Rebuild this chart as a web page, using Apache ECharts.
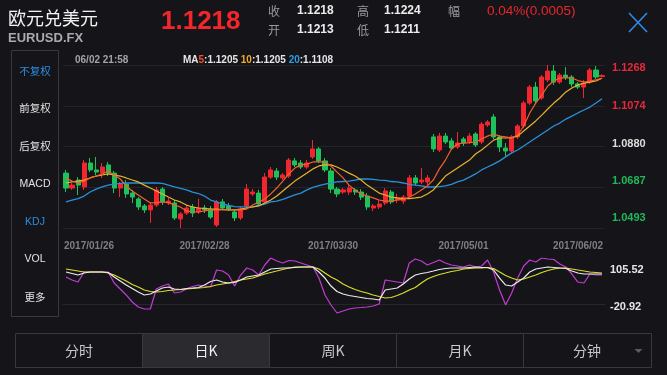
<!DOCTYPE html>
<html><head><meta charset="utf-8">
<script src="https://cdn.jsdelivr.net/npm/echarts@6/dist/echarts.min.js"></script>
<style>html,body{margin:0;padding:0;background:#151519;}#c{width:667px;height:375px;}</style>
</head><body><div id="c"></div>
<script>
const dates = ['2017/01/26','2017/01/27','2017/01/30','2017/01/31',
'2017/02/01','2017/02/02','2017/02/03','2017/02/06','2017/02/07','2017/02/08','2017/02/09','2017/02/10','2017/02/13','2017/02/14','2017/02/15','2017/02/16','2017/02/17','2017/02/20','2017/02/21','2017/02/22','2017/02/23','2017/02/24','2017/02/27','2017/02/28',
'2017/03/01','2017/03/02','2017/03/03','2017/03/06','2017/03/07','2017/03/08','2017/03/09','2017/03/10','2017/03/13','2017/03/14','2017/03/15','2017/03/16','2017/03/17','2017/03/20','2017/03/21','2017/03/22','2017/03/23','2017/03/24','2017/03/27','2017/03/28','2017/03/29','2017/03/30','2017/03/31',
'2017/04/03','2017/04/04','2017/04/05','2017/04/06','2017/04/07','2017/04/10','2017/04/11','2017/04/12','2017/04/13','2017/04/17','2017/04/18','2017/04/19','2017/04/20','2017/04/21','2017/04/24','2017/04/25','2017/04/26','2017/04/27','2017/04/28',
'2017/05/01','2017/05/02','2017/05/03','2017/05/04','2017/05/05','2017/05/08','2017/05/09','2017/05/10','2017/05/11','2017/05/12','2017/05/15','2017/05/16','2017/05/17','2017/05/18','2017/05/19','2017/05/22','2017/05/23','2017/05/24','2017/05/25','2017/05/26','2017/05/30','2017/05/31',
'2017/06/01','2017/06/02'];

const dateLabels = ['2017/01/26','2017/02/28','2017/03/30','2017/05/01','2017/06/02'];
const priceTicks = [1.0493, 1.0687, 1.0880, 1.1074, 1.1268];
const kdjTicks = [-20.92, 105.52];

// [open, close, low, high]
const ohlc = [
[1.0754,1.0683,1.0664,1.0769],[1.0683,1.0697,1.0674,1.0707],[1.0721,1.0697,1.0650,1.0735],[1.0688,1.0802,1.0674,1.0816],[1.0802,1.0769,1.0759,1.0826],
[1.0769,1.0759,1.0745,1.0831],[1.0754,1.0783,1.0731,1.0802],[1.0793,1.0754,1.0740,1.0807],[1.0754,1.0683,1.0659,1.0764],[1.0683,1.0702,1.0640,1.0712],
[1.0702,1.0655,1.0636,1.0721],[1.0659,1.0640,1.0612,1.0674],[1.0631,1.0593,1.0579,1.0640],[1.0598,1.0579,1.0564,1.0607],[1.0579,1.0602,1.0517,1.0612],
[1.0602,1.0674,1.0593,1.0688],[1.0678,1.0617,1.0602,1.0688],[1.0612,1.0621,1.0602,1.0636],[1.0612,1.0541,1.0531,1.0626],[1.0536,1.0560,1.0493,1.0569],
[1.0564,1.0588,1.0555,1.0602],[1.0593,1.0564,1.0545,1.0607],[1.0569,1.0588,1.0560,1.0631],[1.0588,1.0579,1.0564,1.0602],[1.0583,1.0545,1.0536,1.0598],
[1.0507,1.0617,1.0498,1.0626],[1.0617,1.0588,1.0579,1.0631],[1.0598,1.0583,1.0574,1.0612],[1.0569,1.0541,1.0526,1.0583],[1.0541,1.0583,1.0531,1.0593],
[1.0598,1.0678,1.0588,1.0702],[1.0655,1.0664,1.0645,1.0678],[1.0659,1.0607,1.0598,1.0674],[1.0617,1.0735,1.0607,1.0754],[1.0735,1.0769,1.0726,1.0783],
[1.0764,1.0735,1.0721,1.0778],[1.0731,1.0745,1.0721,1.0754],[1.0740,1.0816,1.0731,1.0826],[1.0812,1.0793,1.0783,1.0826],[1.0802,1.0783,1.0774,1.0816],
[1.0783,1.0802,1.0774,1.0816],[1.0831,1.0869,1.0821,1.0911],[1.0869,1.0812,1.0802,1.0878],[1.0812,1.0769,1.0759,1.0826],[1.0764,1.0678,1.0659,1.0778],
[1.0678,1.0655,1.0640,1.0688],[1.0664,1.0674,1.0655,1.0683],[1.0664,1.0683,1.0650,1.0697],[1.0674,1.0664,1.0650,1.0683],[1.0664,1.0640,1.0626,1.0678],
[1.0645,1.0593,1.0579,1.0659],[1.0588,1.0598,1.0574,1.0607],[1.0593,1.0607,1.0583,1.0626],[1.0612,1.0669,1.0602,1.0683],[1.0664,1.0617,1.0607,1.0674],
[1.0626,1.0636,1.0612,1.0655],[1.0621,1.0640,1.0607,1.0650],[1.0645,1.0731,1.0636,1.0745],[1.0731,1.0707,1.0693,1.0745],[1.0712,1.0721,1.0702,1.0778],
[1.0712,1.0731,1.0697,1.0745],[1.0926,1.0869,1.0854,1.0940],[1.0864,1.0930,1.0854,1.0945],[1.0930,1.0902,1.0892,1.0945],[1.0907,1.0873,1.0864,1.0921],
[1.0878,1.0897,1.0869,1.0949],[1.0916,1.0897,1.0883,1.0926],[1.0902,1.0930,1.0892,1.0945],[1.0940,1.0888,1.0878,1.0949],[1.0902,1.0987,1.0892,1.0997],
[1.0983,1.0997,1.0973,1.1006],[1.1021,1.0926,1.0916,1.1035],[1.0926,1.0878,1.0854,1.0935],[1.0873,1.0859,1.0835,1.0897],[1.0859,1.0926,1.0850,1.0935],
[1.0926,1.0978,1.0916,1.0987],[1.0978,1.1087,1.0968,1.1097],[1.1087,1.1163,1.1078,1.1173],[1.1163,1.1097,1.1087,1.1187],[1.1111,1.1211,1.1102,1.1220],
[1.1197,1.1239,1.1187,1.1268],[1.1239,1.1187,1.1173,1.1268],[1.1187,1.1220,1.1178,1.1230],[1.1220,1.1211,1.1197,1.1258],[1.1211,1.1178,1.1163,1.1220],
[1.1178,1.1163,1.1154,1.1187],[1.1163,1.1182,1.1111,1.1197],[1.1187,1.1244,1.1178,1.1254],[1.1244,1.1211,1.1201,1.1263],[1.1213,1.1218,1.1211,1.1224]
];

const ma5 = [1.0731,1.0716,1.0707,1.0716,1.0731,1.0740,1.0750,1.0764,1.0745,1.0726,
1.0693,1.0669,1.0650,1.0631,1.0612,1.0614,1.0617,1.0614,1.0602,1.0593,
1.0574,1.0569,1.0569,1.0574,1.0579,1.0579,1.0579,1.0579,1.0579,1.0579,
1.0583,1.0602,1.0617,1.0631,1.0655,1.0683,1.0716,1.0750,1.0778,1.0793,
1.0797,1.0807,1.0807,1.0807,1.0788,1.0759,1.0731,1.0697,1.0674,1.0655,
1.0645,1.0636,1.0626,1.0621,1.0621,1.0626,1.0629,1.0640,1.0655,1.0674,
1.0693,1.0721,1.0774,1.0816,1.0869,1.0892,1.0897,1.0899,1.0902,1.0916,
1.0930,1.0940,1.0930,1.0926,1.0921,1.0935,1.0978,1.1040,1.1087,1.1125,
1.1168,1.1192,1.1206,1.1208,1.1206,1.1194,1.1187,1.1192,1.1197,1.1205];

const ma10 = [1.0707,1.0712,1.0716,1.0721,1.0731,1.0740,1.0745,1.0750,1.0745,1.0740,
1.0731,1.0721,1.0712,1.0697,1.0683,1.0669,1.0655,1.0640,1.0626,1.0617,
1.0602,1.0593,1.0588,1.0586,1.0583,1.0583,1.0581,1.0579,1.0579,1.0583,
1.0588,1.0593,1.0598,1.0612,1.0626,1.0645,1.0669,1.0693,1.0716,1.0735,
1.0754,1.0774,1.0788,1.0793,1.0793,1.0783,1.0769,1.0754,1.0740,1.0721,
1.0697,1.0678,1.0659,1.0650,1.0640,1.0636,1.0633,1.0633,1.0636,1.0640,
1.0655,1.0674,1.0707,1.0740,1.0759,1.0778,1.0797,1.0816,1.0845,1.0864,
1.0887,1.0911,1.0921,1.0921,1.0923,1.0930,1.0954,1.0978,1.1002,1.1030,
1.1059,1.1087,1.1111,1.1140,1.1159,1.1173,1.1182,1.1187,1.1192,1.1205];

const ma20 = [1.0617,1.0626,1.0633,1.0645,1.0664,1.0678,1.0688,1.0697,1.0702,1.0705,
1.0707,1.0707,1.0707,1.0707,1.0707,1.0707,1.0705,1.0697,1.0688,1.0681,
1.0674,1.0664,1.0657,1.0645,1.0626,1.0617,1.0607,1.0600,1.0595,1.0593,
1.0593,1.0593,1.0600,1.0607,1.0617,1.0621,1.0629,1.0640,1.0650,1.0659,
1.0674,1.0686,1.0695,1.0702,1.0707,1.0712,1.0714,1.0716,1.0721,1.0726,
1.0726,1.0724,1.0721,1.0719,1.0714,1.0712,1.0707,1.0700,1.0697,1.0693,
1.0688,1.0688,1.0690,1.0693,1.0700,1.0712,1.0721,1.0735,1.0750,1.0769,
1.0783,1.0797,1.0812,1.0831,1.0850,1.0864,1.0883,1.0902,1.0921,1.0940,
1.0959,1.0978,1.0992,1.1011,1.1025,1.1040,1.1054,1.1068,1.1087,1.1108];

const kdjK = [73.3,69.9,66.4,71.0,73.3,73.3,73.3,72.2,61.8,52.6,
43.4,35.4,27.4,20.5,22.8,29.7,36.5,38.8,34.3,33.1,
35.4,36.5,37.7,43.4,51.5,54.9,50.3,48.0,49.2,54.9,
61.8,64.1,66.4,73.3,80.2,81.4,82.5,82.5,83.7,84.8,
84.8,84.8,73.3,59.5,41.1,28.5,22.8,19.3,17.0,14.7,
12.4,11.3,9.0,32.0,34.3,36.5,45.7,57.2,66.4,69.9,
72.2,75.6,79.1,81.4,82.5,82.5,82.5,83.7,84.8,83.7,
83.7,77.9,59.5,43.4,41.1,50.3,59.5,73.3,80.2,82.5,
84.8,83.7,82.5,81.4,75.6,71.0,68.7,68.7,68.7,68.7];

const kdjD = [80.2,77.9,75.6,73.3,73.3,73.3,73.3,71.0,66.4,59.5,
52.6,44.6,38.8,32.0,28.5,27.4,28.5,30.8,32.0,33.1,
34.3,35.4,36.5,37.7,40.0,43.4,45.7,48.0,51.5,54.9,
57.2,59.5,64.1,68.7,72.2,75.6,79.1,82.5,84.8,84.8,
84.8,84.8,80.2,71.0,61.8,54.9,45.7,38.8,33.1,28.5,
25.1,20.5,17.0,13.6,14.7,19.3,25.1,32.0,37.7,48.0,
57.2,63.0,67.6,71.0,74.5,76.8,80.2,81.4,82.5,82.5,
83.7,81.4,73.3,65.3,59.5,54.9,57.2,61.8,66.4,72.2,
76.8,80.2,82.5,82.5,80.2,77.9,75.6,73.3,72.2,71.0];

const kdjJ = [61.8,54.9,50.3,73.3,73.3,73.3,73.3,73.3,48.0,34.3,
20.5,4.4,-7.1,-11.7,-11.7,34.3,41.1,45.7,25.1,27.4,
34.3,40.0,43.4,41.1,38.8,77.9,75.6,66.4,41.1,66.4,
82.5,77.9,66.4,89.4,105.52,98.6,94.0,99.8,98.6,94.0,
89.4,84.8,59.5,20.5,-2.5,-20.92,-16.3,-11.7,-9.4,-8.3,
-7.1,-4.8,-0.2,54.9,52.6,50.3,48.0,94.0,103.2,98.6,
89.4,95.2,100.9,94.0,89.4,87.1,84.8,89.4,84.8,87.1,
100.9,73.3,32.0,-2.5,25.1,59.5,87.1,100.9,96.3,105.5,
103.2,102.1,91.7,84.8,68.7,50.3,48.0,68.7,66.4,66.4];

const F = '"Liberation Sans", "Noto Sans CJK SC", sans-serif';
const CJK = '"Noto Sans CJK SC", sans-serif';
const RED = '#f2262e', GREEN = '#1fc15b';

function T(x, y, text, size, fill, o) {
  o = o || {};
  const al = o.align || 'left';
  return { type: 'text', silent: true, z: 100, style: Object.assign({
    x: x, y: y, text: text, fill: fill, fontSize: size, fontFamily: o.family || F,
    fontWeight: o.weight || 'normal', textAlign: al, align: al,
    textVerticalAlign: 'middle', verticalAlign: 'middle'
  }, o.extra || {}) };
}
function L(x1, y1, x2, y2, c, w) {
  return { type: 'line', silent: true, z: 100, shape: {x1: x1, y1: y1, x2: x2, y2: y2}, style: {stroke: c, lineWidth: w || 1} };
}

const graphics = [
  T(8, 18, '欧元兑美元', 18, '#f2f2f2', {family: CJK}),
  T(8, 38, 'EURUSD.FX', 13, '#a9abb0', {weight: 'bold'}),
  T(161, 22, '1.1218', 26, '#f3262c', {weight: 'bold'}),
  T(268, 11, '收', 12, '#9a9a9e', {family: CJK}),
  T(297, 11, '1.1218', 12, '#ececec', {weight: 'bold'}),
  T(357, 11, '高', 12, '#9a9a9e', {family: CJK}),
  T(384, 11, '1.1224', 12, '#ececec', {weight: 'bold'}),
  T(448, 11, '幅', 12, '#9a9a9e', {family: CJK}),
  T(487, 11, '0.04%(0.0005)', 13.5, '#e8262e'),
  T(268, 30, '开', 12, '#9a9a9e', {family: CJK}),
  T(297, 30, '1.1213', 12, '#ececec', {weight: 'bold'}),
  T(357, 30, '低', 12, '#9a9a9e', {family: CJK}),
  T(384, 30, '1.1211', 12, '#ececec', {weight: 'bold'}),
  L(629, 13, 647, 32, '#2f8be6', 1.6),
  L(647, 13, 629, 32, '#2f8be6', 1.6),
  // sidebar
  { type: 'rect', silent: true, z: 90, shape: {x: 11.5, y: 50.5, width: 47, height: 266}, style: {fill: 'none', stroke: '#38383d', lineWidth: 1} },
  T(35, 71, '不复权', 10.5, '#2d8de2', {align: 'center', family: CJK}),
  T(35, 108, '前复权', 10.5, '#e2e2e2', {align: 'center', family: CJK}),
  T(35, 146, '后复权', 10.5, '#e2e2e2', {align: 'center', family: CJK}),
  T(35, 184, 'MACD', 10.5, '#e2e2e2', {align: 'center'}),
  T(35, 222, 'KDJ', 10.5, '#2d8de2', {align: 'center'}),
  T(35, 259, 'VOL', 10.5, '#e2e2e2', {align: 'center'}),
  T(35, 297, '更多', 10.5, '#e2e2e2', {align: 'center', family: CJK}),
  // info line
  T(75, 60, '06/02 21:58', 10, '#a3a3a6', {weight: 'bold'}),
  { type: 'text', silent: true, z: 100, style: {
      x: 183, y: 60, textVerticalAlign: 'middle', verticalAlign: 'middle',
      text: '{w|MA}{a|5}{w|:1.1205 }{b|10}{w|:1.1205 }{c|20}{w|:1.1108}',
      rich: {
        w: {fill: '#e6e6e6', fontSize: 10, fontWeight: 'bold', fontFamily: F},
        a: {fill: '#f5502d', fontSize: 10, fontWeight: 'bold', fontFamily: F},
        b: {fill: '#eeaa2a', fontSize: 10, fontWeight: 'bold', fontFamily: F},
        c: {fill: '#2f9be0', fontSize: 10, fontWeight: 'bold', fontFamily: F}
      } } },
  // tabs
  { type: 'rect', silent: true, z: 89, shape: {x: 142.5, y: 333.5, width: 127, height: 34}, style: {fill: '#2b2b2f'} },
  { type: 'rect', silent: true, z: 90, shape: {x: 15.5, y: 333.5, width: 636, height: 34}, style: {fill: 'none', stroke: '#38383d', lineWidth: 1} },
  L(142.5, 333.5, 142.5, 367.5, '#38383d', 1),
  L(269.5, 333.5, 269.5, 367.5, '#38383d', 1),
  L(396.5, 333.5, 396.5, 367.5, '#38383d', 1),
  L(523.5, 333.5, 523.5, 367.5, '#38383d', 1),
  T(79, 351, '分时', 14, '#c8c8cc', {align: 'center', family: CJK}),
  T(206, 351, '日K', 14, '#f0f0f0', {align: 'center', family: CJK}),
  T(333, 351, '周K', 14, '#c8c8cc', {align: 'center', family: CJK}),
  T(460, 351, '月K', 14, '#c8c8cc', {align: 'center', family: CJK}),
  T(587, 351, '分钟', 14, '#c8c8cc', {align: 'center', family: CJK}),
  { type: 'polygon', silent: true, z: 100, shape: {points: [[634.5, 349], [642.5, 349], [638.5, 353]]}, style: {fill: '#5c5c60'} }
];

const chart = echarts.init(document.getElementById('c'), null, {renderer: 'canvas'});
const option = {
  backgroundColor: '#151519',
  animation: false,
  grid: [
    {left: 63, right: 62, top: 65, height: 163},
    {left: 63, right: 62, top: 258, height: 59}
  ],
  xAxis: [
    { type: 'category', gridIndex: 0, data: dates, boundaryGap: true,
      axisLine: {show: false}, axisTick: {show: false}, splitLine: {show: false},
      axisLabel: {
        interval: function (i, v) { return dateLabels.indexOf(v) >= 0; },
        margin: 13, color: '#7f7f83', fontSize: 10, fontWeight: 'bold', fontFamily: F,
        formatter: function (v) {
          const k = dateLabels.indexOf(v);
          if (k === 0) return '{l|' + v + '}';
          if (k === dateLabels.length - 1) return '{r|' + v + '}';
          if (k === 2) return '{m|' + v + '}';
          return '{n|' + v + '}';
        },
        rich: {
          l: {color: '#7f7f83', fontSize: 10, fontWeight: 'bold', fontFamily: F, padding: [0, 0, 0, 46]},
          r: {color: '#7f7f83', fontSize: 10, fontWeight: 'bold', fontFamily: F, padding: [0, 48, 0, 0]},
          m: {color: '#7f7f83', fontSize: 10, fontWeight: 'bold', fontFamily: F, padding: [0, 8, 0, 0]},
          n: {color: '#7f7f83', fontSize: 10, fontWeight: 'bold', fontFamily: F}
        }
      } },
    { type: 'category', gridIndex: 1, data: dates, boundaryGap: true,
      axisLine: {show: true, lineStyle: {color: '#26262b'}}, axisTick: {show: false},
      axisLabel: {show: false}, splitLine: {show: false} }
  ],
  yAxis: [
    { type: 'value', gridIndex: 0, position: 'right', min: 1.0493, max: 1.1268,
      axisLine: {show: false}, axisTick: {show: false}, splitLine: {show: false},
      axisLabel: {
        customValues: priceTicks, margin: 7, fontSize: 11, fontWeight: 'bold', fontFamily: F,
        formatter: function (v) {
          let k = 0;
          priceTicks.forEach(function (t, i) { if (Math.abs(t - v) < 1e-6) k = i; });
          return '{p' + k + '|' + v.toFixed(4) + '}';
        },
        rich: {
          p0: {color: '#1fb85a', fontSize: 11, fontWeight: 'bold', fontFamily: F, padding: [0, 0, 20, 0]},
          p1: {color: '#1fb85a', fontSize: 11, fontWeight: 'bold', fontFamily: F, padding: [0, 0, 13, 0]},
          p2: {color: '#dcdcdc', fontSize: 11, fontWeight: 'bold', fontFamily: F, padding: [0, 0, 6, 0]},
          p3: {color: '#e8283a', fontSize: 11, fontWeight: 'bold', fontFamily: F, padding: [0, 0, 0, 0]},
          p4: {color: '#e8283a', fontSize: 11, fontWeight: 'bold', fontFamily: F, padding: [6, 0, 0, 0]}
        }
      } },
    { type: 'value', gridIndex: 0, position: 'left', min: 0, max: 4, interval: 1,
      axisLine: {show: false}, axisTick: {show: false}, axisLabel: {show: false},
      splitLine: {show: true, lineStyle: {color: '#232328', width: 1}} },
    { type: 'value', gridIndex: 1, position: 'right', min: -30.12, max: 105.52,
      axisLine: {show: false}, axisTick: {show: false}, splitLine: {show: false},
      axisLabel: {
        customValues: kdjTicks, margin: 5, fontSize: 11, fontWeight: 'bold', fontFamily: F,
        formatter: function (v) {
          return (v < 0 ? '{k0|' : '{k1|') + v.toFixed(2) + '}';
        },
        rich: {
          k0: {color: '#e6e6e6', fontSize: 11, fontWeight: 'bold', fontFamily: F, padding: [0, 0, 12, 0]},
          k1: {color: '#e6e6e6', fontSize: 11, fontWeight: 'bold', fontFamily: F, padding: [24, 0, 0, 0]}
        }
      } }
  ],
  series: [
    { type: 'candlestick', xAxisIndex: 0, yAxisIndex: 0, data: ohlc, barWidth: 4.6,
      itemStyle: {color: RED, color0: GREEN, borderColor: RED, borderColor0: GREEN, borderWidth: 1} },
    { type: 'line', xAxisIndex: 0, yAxisIndex: 0, data: ma20, symbol: 'none',
      lineStyle: {color: '#2a8fd8', width: 1.3}, itemStyle: {color: '#2a8fd8'} },
    { type: 'line', xAxisIndex: 0, yAxisIndex: 0, data: ma10, symbol: 'none',
      lineStyle: {color: '#e9b22e', width: 1.2}, itemStyle: {color: '#e9b22e'} },
    { type: 'line', xAxisIndex: 0, yAxisIndex: 0, data: ma5, symbol: 'none',
      lineStyle: {color: '#f2612c', width: 1.2}, itemStyle: {color: '#f2612c'} },
    { type: 'line', xAxisIndex: 1, yAxisIndex: 2, data: kdjJ, symbol: 'none',
      lineStyle: {color: '#c23bd4', width: 1.2}, itemStyle: {color: '#c23bd4'} },
    { type: 'line', xAxisIndex: 1, yAxisIndex: 2, data: kdjD, symbol: 'none',
      lineStyle: {color: '#dcdc2a', width: 1.2}, itemStyle: {color: '#dcdc2a'} },
    { type: 'line', xAxisIndex: 1, yAxisIndex: 2, data: kdjK, symbol: 'none',
      lineStyle: {color: '#ececec', width: 1.2}, itemStyle: {color: '#ececec'} }
  ],
  graphic: graphics
};
chart.setOption(option);
</script></body></html>
